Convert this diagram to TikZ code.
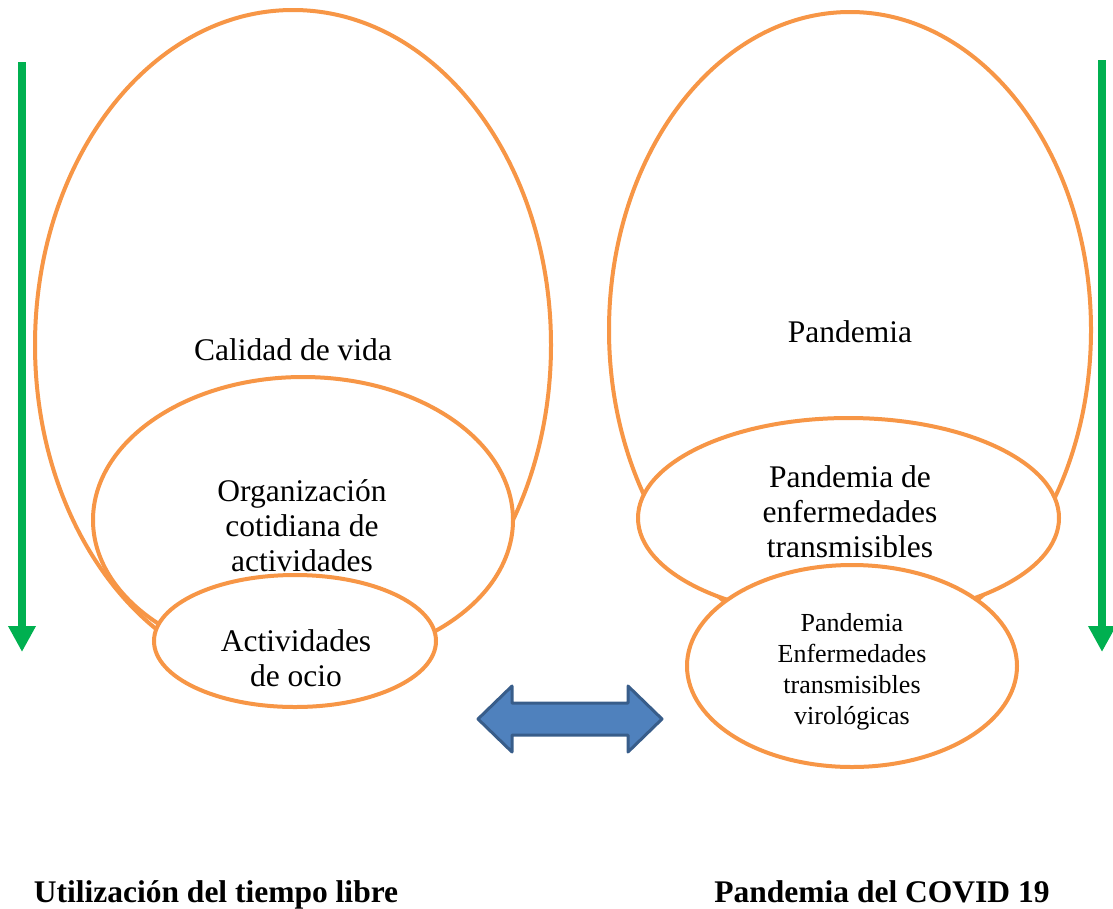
\documentclass[tikz,border=0pt]{standalone}
\usepackage{fontspec}
\setmainfont{Liberation Serif}
\usetikzlibrary{shapes.geometric,arrows.meta}
\definecolor{orangeline}{HTML}{F79646}
\definecolor{greenarrow}{HTML}{00B050}
\definecolor{bluefill}{HTML}{4F81BD}
\definecolor{blueline}{HTML}{385D8A}
\tikzset{
  oval/.style={ellipse, draw=orangeline, line width=4pt, fill=white, inner sep=0pt},
  bigtext/.style={font=\fontsize{31.5}{35}\selectfont, align=center, inner sep=0pt},
  smalltext/.style={font=\fontsize{26}{31}\selectfont, align=center, inner sep=0pt},
  boldlabel/.style={font=\fontsize{31.5}{35}\selectfont\bfseries, inner sep=0pt, anchor=base},
  downarrow/.style={draw=greenarrow, line width=8pt, -{Triangle[width=26pt,length=26pt]}},
  bigarrow/.style={draw=blueline, fill=bluefill, line width=3pt, line join=round}
}
\begin{document}
\begin{tikzpicture}[x=1pt,y=-1pt]
\useasboundingbox (0,0) rectangle (1113,908);
% left ellipses
\node[oval, minimum width=516pt, minimum height=670pt] (lbig) at (293,345) {};
\node[oval, minimum width=420pt, minimum height=286pt] (lmid) at (303,520) {};
\node[oval, minimum width=282pt, minimum height=132pt] (lsmall) at (295,641) {};
% right ellipses
\node[oval, minimum width=482pt, minimum height=636pt] (rbig) at (850,330) {};
\node[oval, minimum width=421pt, minimum height=200pt] (rmid) at (848.5,518) {};
\node[oval, minimum width=330pt, minimum height=202pt] (rsmall) at (852,666) {};
% texts
\node[bigtext, anchor=base] (tcal) at (293,360) {Calidad de vida};
\node[bigtext, anchor=base] (tpan) at (850,342) {Pandemia};
\node[bigtext] (torg) at (302,526) {Organización\\cotidiana de\\actividades};
\node[bigtext] (tpde) at (850,512) {Pandemia de\\enfermedades\\transmisibles};
\node[bigtext] (tact) at (296,658) {Actividades\\de ocio};
\node[smalltext] (tvir) at (852,672) {Pandemia\\Enfermedades\\transmisibles\\virológicas};
% bottom labels
\node[boldlabel] (lleft) at (216,902) {Utilización del tiempo libre};
\node[boldlabel] (lright) at (882,902) {Pandemia del COVID 19};
% green arrows
\coordinate (ga1) at (22,62);
\coordinate (ga2) at (22,652);
\coordinate (gb1) at (1102,60);
\coordinate (gb2) at (1102,652);
\draw[downarrow] (ga1) -- (ga2);
\draw[downarrow] (gb1) -- (gb2);
% double arrow
\draw[bigarrow] (478,719) -- (512,686) -- (512,703) -- (628,703) -- (628,686) -- (662,719) -- (628,752) -- (628,735) -- (512,735) -- (512,752) -- cycle;
\end{tikzpicture}
\end{document}
